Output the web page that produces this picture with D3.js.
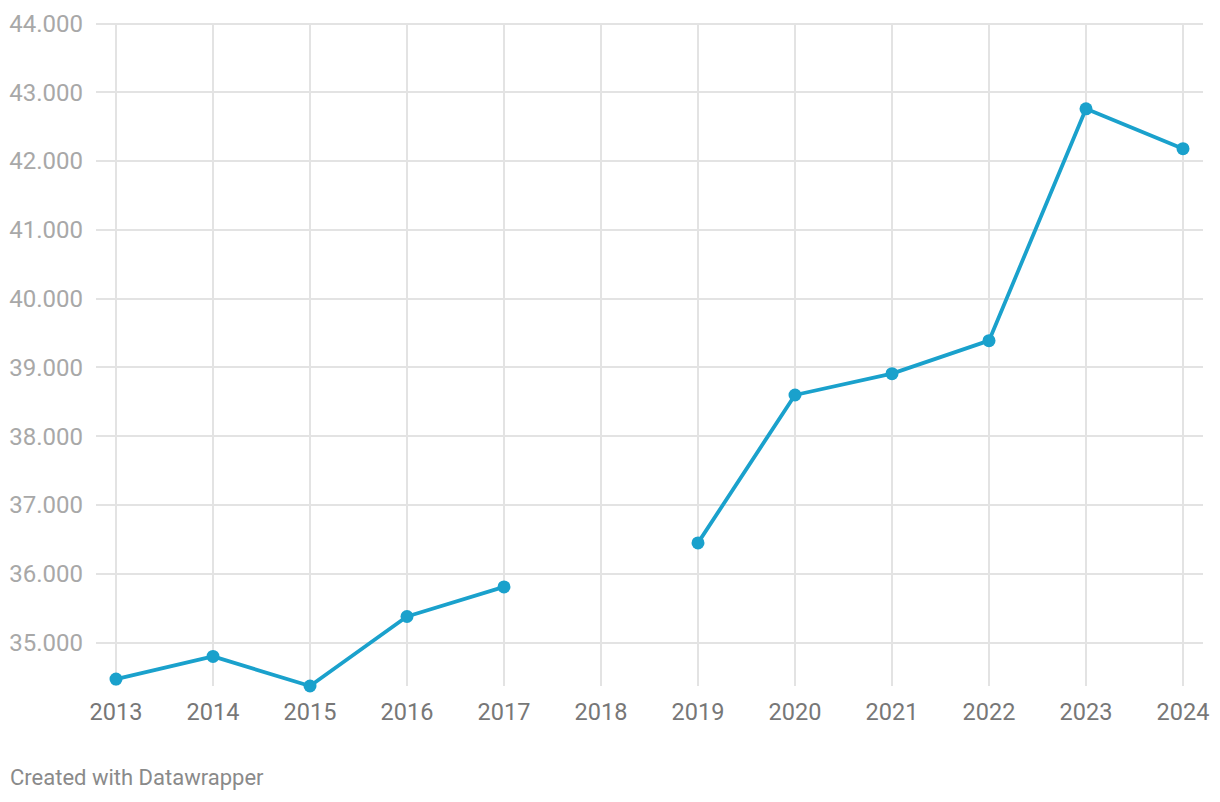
<!DOCTYPE html>
<html><head><meta charset="utf-8">
<script src="https://cdn.jsdelivr.net/npm/d3@7"></script>
<style>
html,body{margin:0;padding:0;background:#fff;}
svg{display:block;font-family:Roboto,sans-serif;}
</style></head>
<body><svg id="c" width="1220" height="802"></svg>
<script>
const years = [2013,2014,2015,2016,2017,2018,2019,2020,2021,2022,2023,2024];
const values = [34.47,34.80,34.37,35.38,35.81,null,36.45,38.60,38.91,39.39,42.76,42.18];
const yTicks = [35,36,37,38,39,40,41,42,43,44];
const footer = "Created with Datawrapper";

const svg = d3.select("#c");
const x = d3.scalePoint().domain(years).range([116,1183]);
const y = d3.scaleLinear().domain([34.37,44]).range([686,23.5]);

// horizontal grid
svg.append("g").selectAll("line").data(yTicks).join("line")
  .attr("x1",96).attr("x2",1203)
  .attr("y1",d=>y(d)).attr("y2",d=>y(d))
  .attr("stroke","#e3e3e3").attr("stroke-width",2).attr("shape-rendering","crispEdges");
// vertical grid
svg.append("g").selectAll("line").data(years).join("line")
  .attr("x1",d=>x(d)).attr("x2",d=>x(d))
  .attr("y1",y(44)).attr("y2",686)
  .attr("stroke","#e3e3e3").attr("stroke-width",2).attr("shape-rendering","crispEdges");

// y labels
svg.append("g").selectAll("text").data(yTicks).join("text")
  .attr("x",83).attr("y",d=>y(d)).attr("dy","0.35em")
  .attr("text-anchor","end").attr("fill","#a8a8a8").attr("font-size",24)
  .text(d=>d3.format(".3f")(d));
// x labels
svg.append("g").selectAll("text").data(years).join("text")
  .attr("x",d=>x(d)).attr("y",720)
  .attr("text-anchor","middle").attr("fill","#777").attr("font-size",23.5)
  .text(d=>d);

const line = d3.line().defined(d=>d.v!=null).x(d=>x(d.year)).y(d=>y(d.v));
const data = years.map((yr,i)=>({year:yr,v:values[i]}));
svg.append("path").datum(data).attr("d",line)
  .attr("fill","none").attr("stroke","#1aa1cc").attr("stroke-width",3.8)
  .attr("stroke-linejoin","round").attr("stroke-linecap","round");
svg.append("g").selectAll("circle").data(data.filter(d=>d.v!=null)).join("circle")
  .attr("cx",d=>x(d.year)).attr("cy",d=>y(d.v)).attr("r",6.5).attr("fill","#1aa1cc");

svg.append("text").attr("x",10).attr("y",785).attr("fill","#8a8a8a").attr("font-size",22).text(footer);
</script></body></html>
